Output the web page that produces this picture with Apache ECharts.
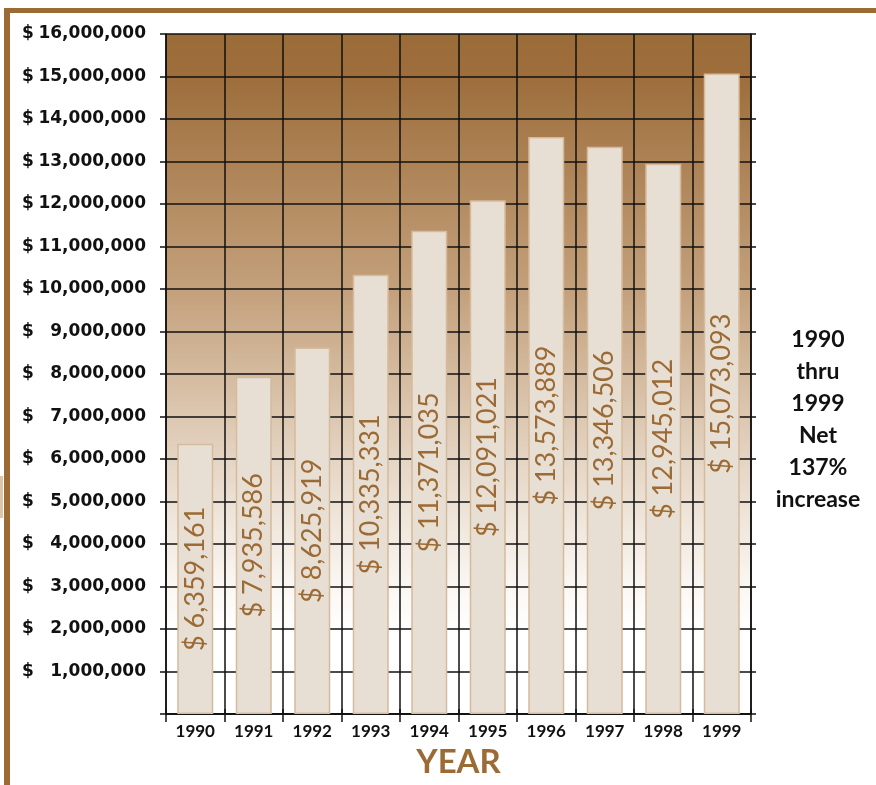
<!DOCTYPE html>
<html>
<head>
<meta charset="utf-8">
<script src="https://cdn.jsdelivr.net/npm/echarts@6/dist/echarts.min.js"></script>
<style>
  html, body { margin: 0; padding: 0; background: #fff; }
  #chart { width: 876px; height: 785px; }
</style>
</head>
<body>
<div id="chart"></div>
<script>
const years = ["1990", "1991", "1992", "1993", "1994", "1995", "1996", "1997", "1998", "1999"];
const revenue = [6359161, 7935586, 8625919, 10335331, 11371035, 12091021, 13573889, 13346506, 12945012, 15073093];
const sideNote = ["1990", "thru", "1999", "Net", "137%", "increase"];

const brown = "#9c6b35";
const gridLine = { color: "#111", width: 1.5 };

const fmt = (v) => v.toLocaleString("en-US");

const chart = echarts.init(document.getElementById("chart"));

const option = {
  animation: false,
  backgroundColor: "#fff",
  grid: {
    left: 166,
    right: 125,
    top: 34,
    bottom: 71,
    show: true,
    borderWidth: 0,
    backgroundColor: {
      type: "linear",
      x: 0, y: 0, x2: 0, y2: 1,
      colorStops: [
        { offset: 0, color: "#9b6b38" },
        { offset: 0.07, color: "#9e6f3d" },
        { offset: 0.38, color: "#c4a17c" },
        { offset: 0.56, color: "#dcc7b0" },
        { offset: 0.7, color: "#eee3d7" },
        { offset: 0.82, color: "#fbf8f4" },
        { offset: 0.88, color: "#ffffff" },
        { offset: 1, color: "#ffffff" },
      ],
    },
  },
  xAxis: [
    {
      type: "category",
      data: years,
      position: "bottom",
      axisLine: { lineStyle: gridLine },
      axisTick: { show: true, length: 8, lineStyle: gridLine },
      splitLine: { show: true, lineStyle: gridLine },
      axisLabel: {
        color: "#111",
        fontFamily: "Lato",
        fontWeight: "bold",
        fontSize: 17,
        margin: 9,
      },
      name: "YEAR",
      nameLocation: "middle",
      nameGap: 32,
      nameTextStyle: {
        color: brown,
        fontFamily: "Lato",
        fontWeight: "bold",
        fontSize: 33,
      },
    },
    {
      type: "category",
      data: years,
      position: "top",
      axisLine: { lineStyle: gridLine },
      axisTick: { show: true, length: 5, lineStyle: gridLine },
      axisLabel: { show: false },
    },
  ],
  yAxis: [
    {
      type: "value",
      min: 0,
      max: 16000000,
      interval: 1000000,
      position: "left",
      axisLine: { show: true, lineStyle: gridLine },
      axisTick: { show: true, length: 6, lineStyle: gridLine },
      splitLine: { show: true, lineStyle: gridLine },
      axisLabel: {
        margin: 20,
        formatter: (v) => (v === 0 ? "" : "{d|$}{n|" + fmt(v) + "}"),
        rich: {
          d: {
            width: 14,
            align: "left",
            color: "#111",
            fontFamily: "DejaVu Sans",
            fontWeight: "bold",
            fontSize: 17,
          },
          n: {
            width: 110,
            align: "right",
            color: "#111",
            fontFamily: "DejaVu Sans",
            fontWeight: "bold",
            fontSize: 17,
          },
        },
      },
    },
    {
      type: "value",
      min: 0,
      max: 16000000,
      interval: 1000000,
      position: "right",
      axisLine: { show: true, lineStyle: gridLine },
      axisTick: { show: true, length: 5, lineStyle: gridLine },
      splitLine: { show: false },
      axisLabel: { show: false },
    },
  ],
  series: [
    {
      type: "bar",
      data: revenue,
      barWidth: 36,
      itemStyle: {
        color: "#e8dfd4",
        borderColor: "#d5bb9b",
        borderWidth: 1.5,
      },
      label: {
        show: true,
        position: "inside",
        rotate: 90,
        color: brown,
        fontFamily: "Lato",
        fontSize: 27,
        formatter: (p) => "$ " + fmt(p.value),
      },
    },
  ],
  graphic: [
    {
      type: "rect",
      shape: { x: 4, y: 8, width: 872, height: 5 },
      style: { fill: brown },
      silent: true,
    },
    {
      type: "rect",
      shape: { x: 4, y: 8, width: 6, height: 777 },
      style: { fill: brown },
      silent: true,
    },
    {
      type: "rect",
      shape: { x: 0, y: 476, width: 3, height: 42 },
      style: { fill: "#dcc6a8" },
      silent: true,
    },
    {
      type: "text",
      x: 818,
      y: 324,
      style: {
        text: sideNote.join("\n"),
        textAlign: "center",
        textVerticalAlign: "top",
        lineHeight: 32,
        fill: "#111",
        font: "bold 23px Lato",
      },
      silent: true,
    },
  ],
};

chart.setOption(option);
</script>
</body>
</html>
